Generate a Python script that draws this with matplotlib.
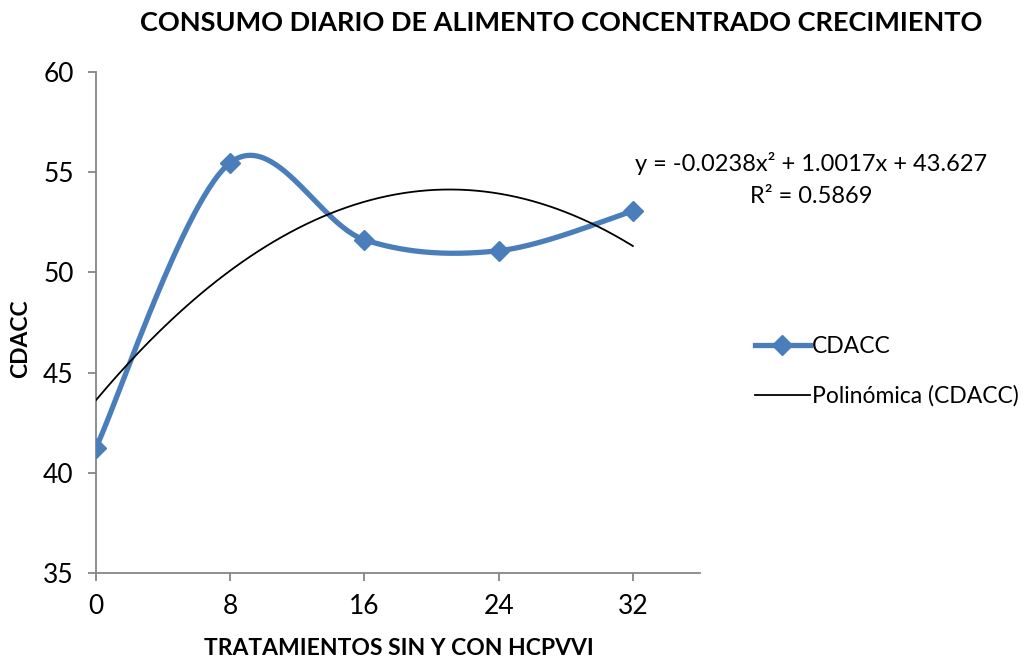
import numpy as np
import matplotlib
matplotlib.use("Agg")
import matplotlib.pyplot as plt
from matplotlib.lines import Line2D

plt.rcParams['font.family'] = ['Lato', 'DejaVu Sans']

x_vals = [0, 8, 16, 24, 32]
y_vals = [41.25, 55.47, 51.63, 51.08, 53.06]
x_ticks = [0, 8, 16, 24, 32]
y_ticks = [35, 40, 45, 50, 55, 60]
title = "CONSUMO DIARIO DE ALIMENTO CONCENTRADO CRECIMIENTO"
xlabel = "TRATAMIENTOS SIN Y CON HCPVVI"
ylabel = "CDACC"
series_name = "CDACC"
trend_name = "Polinómica (CDACC)"
eq_text = "y = -0.0238x² + 1.0017x + 43.627\nR² = 0.5869"

def catmull(xs, ys, n=60):
    P = np.column_stack([xs, ys]).astype(float)
    P = np.vstack([P[0], P, P[-1]])
    out = []
    for i in range(1, len(P) - 2):
        p0, p1, p2, p3 = P[i - 1], P[i], P[i + 1], P[i + 2]
        c1 = p1 + (p2 - p0) / 6.0
        c2 = p2 - (p3 - p1) / 6.0
        t = np.linspace(0, 1, n)[:, None]
        b = (1 - t) ** 3 * p1 + 3 * (1 - t) ** 2 * t * c1 + 3 * (1 - t) * t ** 2 * c2 + t ** 3 * p2
        out.append(b if i == 1 else b[1:])
    out = np.vstack(out)
    return out[:, 0], out[:, 1]

fig = plt.figure(figsize=(10.33, 6.64), dpi=100)
ax = fig.add_axes([0.0929, 0.137, 0.5847, 0.7546])

sx, sy = catmull(x_vals, y_vals)
col = '#4A7EBB'
ax.plot(sx, sy, color=col, lw=3.8, solid_capstyle='round', zorder=3)
ax.plot(x_vals, y_vals, ls='none', marker='D', ms=10, color=col, zorder=4)

coef = np.polyfit(x_vals, y_vals, 2)
tx = np.linspace(0, 32, 200)
ax.plot(tx, np.polyval(coef, tx), color='black', lw=1.3, zorder=5)

ax.set_xlim(0, 36)
ax.set_ylim(35, 60)
ax.set_xticks(x_ticks)
ax.set_yticks(y_ticks)
for s in ['top', 'right']:
    ax.spines[s].set_visible(False)
for s in ['left', 'bottom']:
    ax.spines[s].set_color('#868686')
    ax.spines[s].set_linewidth(1.3)
ax.tick_params(axis='both', colors='#868686', labelcolor='black', labelsize=19, length=6, width=1.3, direction='out')
ax.tick_params(axis='x', pad=9)
ax.tick_params(axis='y', pad=10)

fig.text(0.5435, 0.966, title, ha='center', va='center', fontsize=19.5, fontweight='bold')
fig.text(0.386, 0.024, xlabel, ha='center', va='center', fontsize=16.5, fontweight='bold')
fig.text(0.020, 0.49, ylabel, ha='center', va='center', fontsize=16.5, fontweight='bold', rotation=90)

fig.text(0.785, 0.730, eq_text, ha='center', va='center', fontsize=17, linespacing=1.65)

handles = [Line2D([0], [0], color=col, lw=3.8, marker='D', ms=10),
           Line2D([0], [0], color='black', lw=1.3)]
fig.legend(handles, [series_name, trend_name], loc='center left', bbox_to_anchor=(0.724, 0.441),
           borderaxespad=0, borderpad=0.3,
           frameon=False, fontsize=16.5, handlelength=2.4, handletextpad=0.1, labelspacing=1.25)

fig.savefig("out.png", dpi=100)
